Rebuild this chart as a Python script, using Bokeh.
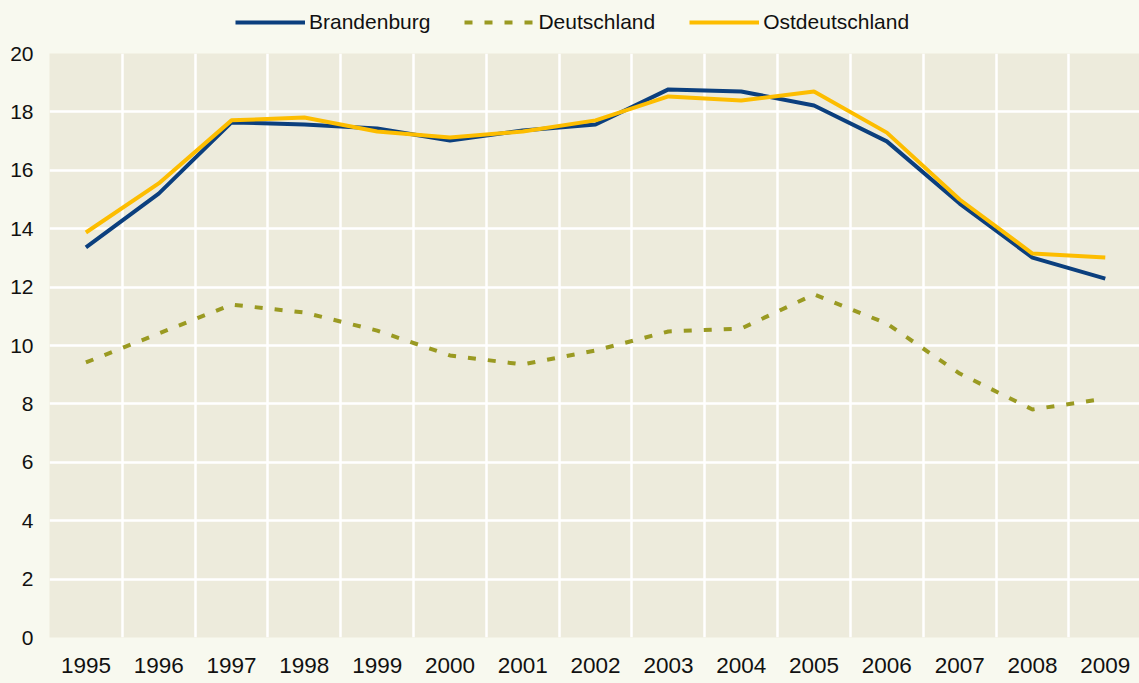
from bokeh.plotting import figure
from bokeh.layouts import column
from bokeh.models import Legend, LegendItem, FixedTicker, Range1d
from bokeh.embed import file_html
from bokeh.resources import INLINE

years = list(range(1995, 2010))
brandenburg = [13.36, 15.2, 17.64, 17.57, 17.43, 17.02, 17.36, 17.57, 18.77, 18.7, 18.22, 16.99, 14.86, 13.01, 12.29]
deutschland = [9.42, 10.41, 11.4, 11.13, 10.51, 9.66, 9.35, 9.83, 10.48, 10.58, 11.75, 10.75, 9.04, 7.81, 8.18]
ostdeutschland = [13.87, 15.55, 17.71, 17.81, 17.33, 17.12, 17.33, 17.71, 18.53, 18.39, 18.7, 17.29, 15.0, 13.15, 13.01]
series_names = ["Brandenburg", "Deutschland", "Ostdeutschland"]
y_ticks = [0, 2, 4, 6, 8, 10, 12, 14, 16, 18, 20]

FONT = "Liberation Sans"
PAGE_BG = "#F8F9EF"
PLOT_BG = "#EDEBDC"
COLORS = ["#0B3F7E", "#9A9A22", "#FDBD00"]
WIDTHS = [4, 4, 4]
DASHES = ["solid", "8 12", "solid"]

LEG_H = 38

# ---- main chart ----
p = figure(width=1139, height=683 - LEG_H, output_backend="svg", toolbar_location=None,
           x_range=Range1d(years[0] - 0.5, years[-1] + 0.47), y_range=Range1d(0, 20),
           min_border_left=49, min_border_right=0, min_border_top=53 - LEG_H, min_border_bottom=46)
p.outline_line_color = None
p.background_fill_color = PLOT_BG
p.border_fill_color = PAGE_BG

for vals, c, w, d in zip([brandenburg, deutschland, ostdeutschland], COLORS, WIDTHS, DASHES):
    p.line(years, vals, line_color=c, line_width=w, line_dash=d)

p.xaxis.ticker = FixedTicker(ticks=years)
p.xgrid.ticker = FixedTicker(ticks=[y - 0.5 for y in years] + [years[-1] + 0.5])
p.yaxis.ticker = FixedTicker(ticks=y_ticks)
for g in (p.xgrid, p.ygrid):
    g.grid_line_color = "white"
    g.grid_line_width = 2.5
    g.grid_line_alpha = 1.0

for ax in (p.xaxis, p.yaxis):
    ax.axis_line_color = None
    ax.major_tick_line_color = None
    ax.minor_tick_line_color = None
    ax.major_tick_out = 0
    ax.major_tick_in = 0
    ax.major_label_text_font = FONT
    ax.major_label_text_color = "#111111"
p.yaxis.major_label_text_font_size = "21px"
p.xaxis.major_label_text_font_size = "22.5px"
p.yaxis.major_label_standoff = 16
p.xaxis.major_label_standoff = 20

# ---- legend strip ----
lg = figure(width=1139, height=LEG_H, output_backend="svg", toolbar_location=None,
            x_axis_type=None, y_axis_type=None,
            x_range=Range1d(0, 1), y_range=Range1d(0, 1),
            min_border_left=0, min_border_right=0, min_border_top=0, min_border_bottom=0)
lg.outline_line_color = None
lg.background_fill_color = PAGE_BG
lg.border_fill_color = PAGE_BG
lg.grid.visible = False
items = []
for name, c, w, d in zip(series_names, COLORS, WIDTHS, DASHES):
    r = lg.line([-5, -4], [-5, -4], line_color=c, line_width=w, line_dash=d)
    items.append(LegendItem(label=name, renderers=[r]))
legend = Legend(items=items, orientation="horizontal", location=(186, 4),
                glyph_width=70, glyph_height=20, label_standoff=4, spacing=34,
                padding=0, margin=0, background_fill_alpha=0, border_line_color=None,
                label_text_font=FONT, label_text_font_size="21px", label_text_color="#111111")
lg.add_layout(legend, "center")

layout = column(lg, p, spacing=0)
html = file_html(layout, INLINE)
html = html.replace("<head>", "<head><style>html,body{background:%s;}</style>" % PAGE_BG, 1)
open("out.html", "w").write(html)
